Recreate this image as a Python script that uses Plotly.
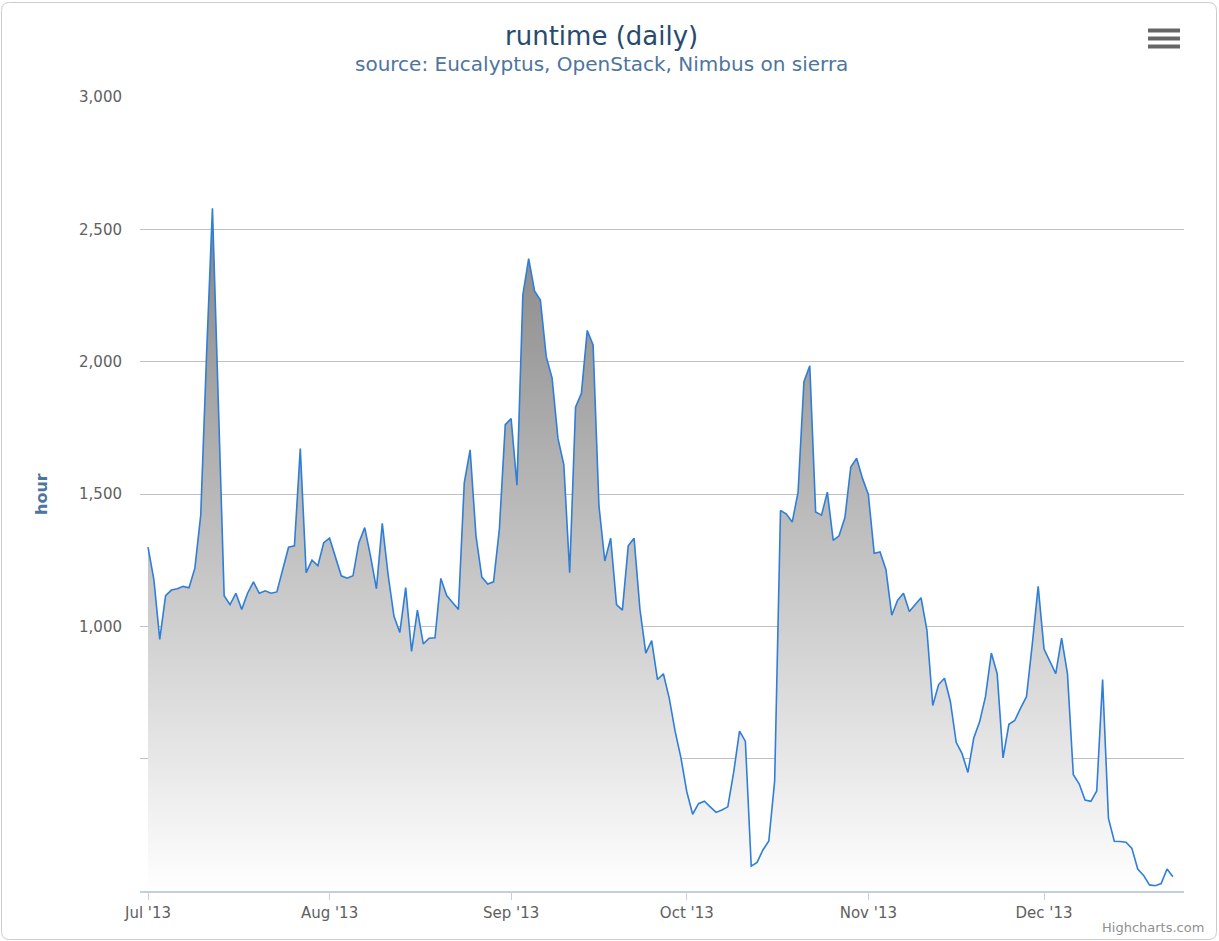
import pandas as pd
import plotly.graph_objects as go

# ---- data (hours per day) ----
start_date = "2013-07-01"
jul = [1299, 1177, 951, 1116, 1137, 1142, 1151, 1146, 1220, 1420, 2030, 2580, 1850, 1116, 1082,
       1125, 1064, 1125, 1168, 1125, 1134, 1125, 1130, 1220, 1299, 1304, 1672, 1203, 1250, 1229, 1316]
aug = [1333, 1264, 1191, 1182, 1191, 1316, 1373, 1264, 1142, 1389, 1194, 1038, 977, 1146, 905,
       1061, 934, 955, 957, 1181, 1116, 1090, 1064, 1542, 1667, 1342, 1186, 1160, 1168, 1368, 1762]
sep = [1785, 1533, 2253, 2389, 2267, 2233, 2019, 1938, 1710, 1611, 1203, 1828, 1880, 2118, 2063,
       1455, 1247, 1333, 1082, 1061, 1304, 1333, 1064, 899, 946, 799, 821, 729, 604, 503]
oct_ = [375, 290, 330, 339, 318, 297, 306, 318, 448, 604, 566, 94, 108, 155, 189, 415,
        1438, 1424, 1394, 1507, 1924, 1984, 1432, 1420, 1507, 1325, 1342, 1411, 1602, 1635, 1559]
nov = [1498, 1276, 1281, 1215, 1042, 1099, 1125, 1056, 1082, 1108, 986, 701, 780, 804, 717,
       562, 519, 448, 578, 639, 734, 899, 821, 503, 630, 644, 691, 734, 934, 1151]
dec = [914, 865, 821, 955, 821, 439, 405, 344, 339, 378, 799, 274, 188, 187, 184, 161,
       83, 59, 23, 20, 28, 83, 54]

values = jul + aug + sep + oct_ + nov + dec
dates = pd.date_range(start_date, periods=len(values), freq="D")

y_tickvals = [500, 1000, 1500, 2000, 2500, 3000]
y_ticktext = ["", "1,000", "1,500", "2,000", "2,500", "3,000"]

title = "runtime (daily)"
subtitle = "source: Eucalyptus, OpenStack, Nimbus on sierra"
y_title = "hour"

# ---- layout geometry (pixels) ----
W, H = 1219, 941
L, R, T, B = 140, 1184, 97, 891


def px(x):
    return (x - L) / (R - L)


def py(y):
    return (B - y) / (B - T)


FONT = "DejaVu Sans"

fig = go.Figure()
fig.add_trace(go.Scatter(
    x=dates, y=values, mode="lines",
    line=dict(color="#2f7ed8", width=1.6),
    fill="tozeroy",
    fillgradient=dict(type="vertical", colorscale=[[0, "#ffffff"], [1, "#848484"]],
                      start=0, stop=max(values)),
    hoverinfo="x+y", showlegend=False,
))

x0 = pd.Timestamp(start_date) - pd.Timedelta(days=1.37)
x1 = pd.Timestamp(start_date) + pd.Timedelta(days=176.9)

fig.update_layout(
    width=W, height=H,
    margin=dict(l=L, r=W - R, t=T, b=H - B, pad=0),
    paper_bgcolor="white", plot_bgcolor="white",
    font=dict(family=FONT, color="#606060"),
    xaxis=dict(
        type="date", range=[x0, x1],
        tick0=start_date, dtick="M1", tickformat="%b '%y",
        ticks="outside", ticklen=7, tickcolor="#C0D0E0", tickwidth=1,
        showline=True, linecolor="#C0D0E0", linewidth=1.5,
        showgrid=False, zeroline=False,
        tickfont=dict(size=15, color="#606060", family=FONT),
    ),
    yaxis=dict(
        range=[0, 3000], tickvals=y_tickvals, ticktext=y_ticktext,
        showgrid=True, gridcolor="#C0C0C0", gridwidth=1,
        zeroline=False, showline=False, ticks="",
        ticklabelstandoff=17,
        tickfont=dict(size=15, color="#606060", family=FONT),
    ),
    annotations=[
        dict(text=title, x=px(601), y=py(36), xref="paper", yref="paper",
             showarrow=False, xanchor="center", yanchor="middle",
             font=dict(size=26, color="#274b6d", family=FONT)),
        dict(text=subtitle, x=px(601), y=py(64), xref="paper", yref="paper",
             showarrow=False, xanchor="center", yanchor="middle",
             font=dict(size=20, color="#4d759e", family=FONT)),
        dict(text="<b>" + y_title + "</b>", x=px(41), y=0.5, xref="paper", yref="paper",
             showarrow=False, xanchor="center", yanchor="middle", textangle=-90,
             font=dict(size=16, color="#4d759e", family=FONT)),
        dict(text="Highcharts.com", x=px(1206), y=py(927), xref="paper", yref="paper",
             showarrow=False, xanchor="right", yanchor="middle",
             font=dict(size=13, color="#909090", family=FONT)),
    ],
)

# outer rounded border
r = 8
bx0, by0, bx1, by1 = 1.5, 2.5, 1216.5, 939.5
path = (f"M {px(bx0 + r)},{py(by0)} L {px(bx1 - r)},{py(by0)} "
        f"Q {px(bx1)},{py(by0)} {px(bx1)},{py(by0 + r)} "
        f"L {px(bx1)},{py(by1 - r)} Q {px(bx1)},{py(by1)} {px(bx1 - r)},{py(by1)} "
        f"L {px(bx0 + r)},{py(by1)} Q {px(bx0)},{py(by1)} {px(bx0)},{py(by1 - r)} "
        f"L {px(bx0)},{py(by0 + r)} Q {px(bx0)},{py(by0)} {px(bx0 + r)},{py(by0)} Z")
fig.add_shape(type="path", path=path, xref="paper", yref="paper",
              line=dict(color="#cccccc", width=1), layer="below")

# export menu icon (three bars)
for yc in (30.5, 38.5, 46.5):
    fig.add_shape(type="rect", xref="paper", yref="paper",
                  x0=px(1148), x1=px(1180), y0=py(yc - 2), y1=py(yc + 2),
                  fillcolor="#666666", line=dict(width=0))

fig.write_html("out.html", config={"displayModeBar": False},
               post_script="document.body.style.margin='0';document.body.style.overflow='hidden';")
